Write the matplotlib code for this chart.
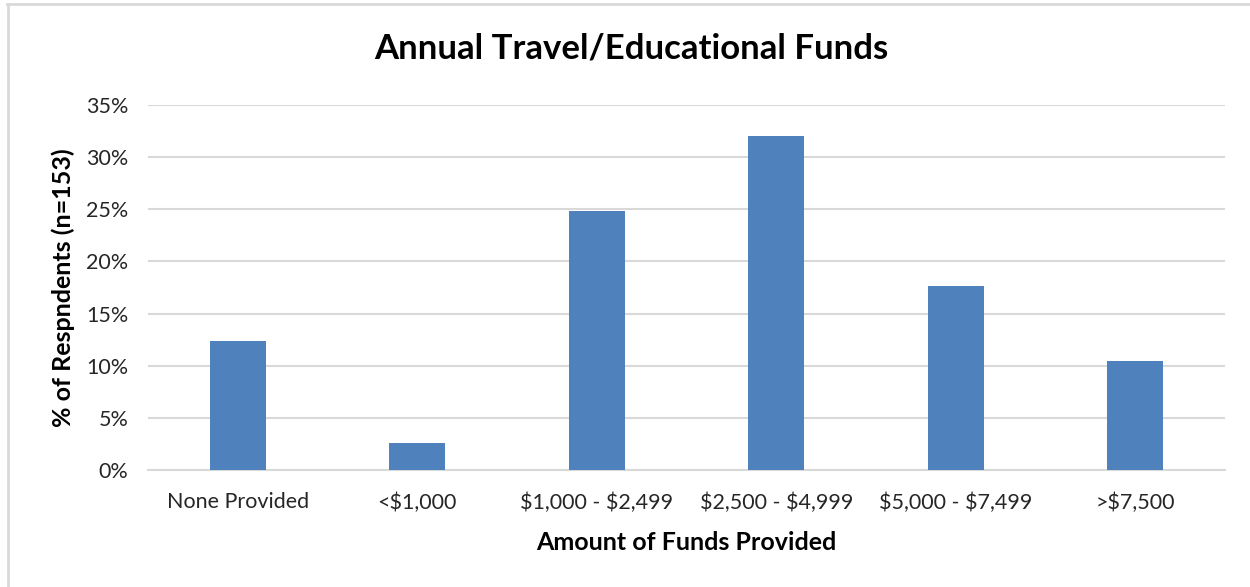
import numpy as np
import matplotlib.pyplot as plt
from matplotlib.ticker import PercentFormatter
from matplotlib.lines import Line2D

categories = ['None Provided', '<$1,000', '$1,000 - $2,499', '$2,500 - $4,999',
              '$5,000 - $7,499', '>$7,500']
counts = [19, 4, 38, 49, 27, 16]
n_total = 153
shares = [c / n_total for c in counts]
y_ticks = [0, 0.05, 0.10, 0.15, 0.20, 0.25, 0.30, 0.35]

plt.rcParams['font.family'] = ['Lato', 'DejaVu Sans']
plt.rcParams['text.parse_math'] = False

fig = plt.figure(figsize=(12.5, 5.87), dpi=100)
ax = fig.add_axes([0.1184, 0.1993, 0.8616, 0.6218])

x = np.arange(len(categories))
ax.bar(x, shares, width=0.31, color='#4F81BD', zorder=3)

ax.set_xlim(-0.5, len(categories) - 0.5)
ax.set_ylim(0, 0.35)
ax.set_yticks(y_ticks)
ax.yaxis.set_major_formatter(PercentFormatter(1.0, decimals=0))
ax.set_xticks(x)
ax.set_xticklabels(categories)
ax.tick_params(axis='both', length=0, labelsize=15.5, colors='#262626')
ax.tick_params(axis='x', pad=16)
ax.tick_params(axis='y', pad=14)

ax.grid(axis='y', color='#D9D9D9', linewidth=1.5, zorder=0)
for side in ['top', 'right', 'left']:
    ax.spines[side].set_visible(False)
ax.spines['bottom'].set_color('#D9D9D9')
ax.spines['bottom'].set_linewidth(1.5)

ax.set_xlabel('Amount of Funds Provided', fontsize=18, fontweight='bold', labelpad=13)
ax.set_ylabel('% of Respndents (n=153)', fontsize=18, fontweight='bold', labelpad=8)
fig.text(0.505, 0.918, 'Annual Travel/Educational Funds', fontsize=25, fontweight='bold',
         ha='center', va='center')

# light gray outer frame (top and left edges visible)
fig.add_artist(Line2D([7 / 1250, 1], [1 - 4 / 587, 1 - 4 / 587], color='#D9D9D9',
                      linewidth=2, transform=fig.transFigure))
fig.add_artist(Line2D([8 / 1250, 8 / 1250], [0, 1 - 4 / 587], color='#D9D9D9',
                      linewidth=2, transform=fig.transFigure))

fig.savefig('out.png', dpi=100)
